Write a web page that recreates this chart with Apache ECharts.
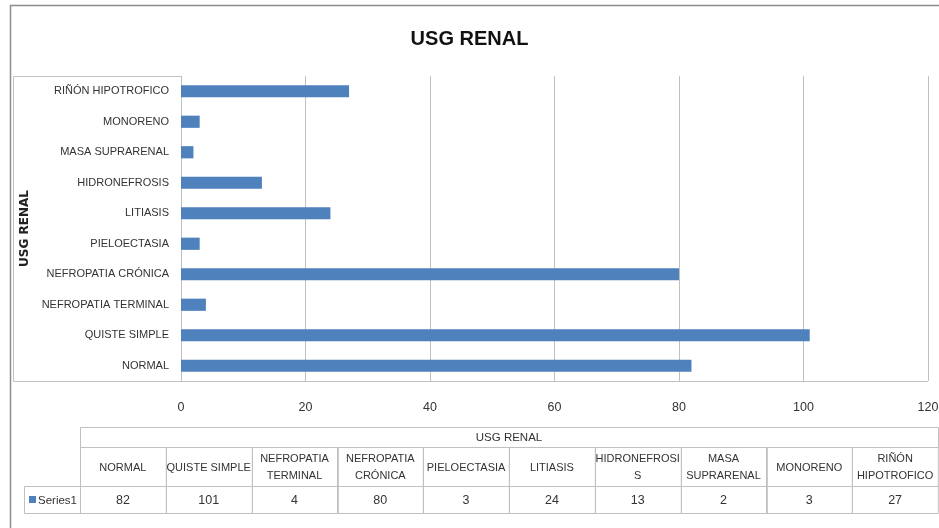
<!DOCTYPE html>
<html>
<head>
<meta charset="utf-8">
<script src="https://cdn.jsdelivr.net/npm/echarts@6/dist/echarts.min.js"></script>
<style>
  html, body { margin: 0; padding: 0; background: #fff; }
  #chart { width: 939px; height: 528px; }
</style>
</head>
<body>
<div id="chart"></div>
<script>
// datos
var categories = ['NORMAL', 'QUISTE SIMPLE', 'NEFROPATIA TERMINAL', 'NEFROPATIA CRÓNICA', 'PIELOECTASIA',
  'LITIASIS', 'HIDRONEFROSIS', 'MASA SUPRARENAL', 'MONORENO', 'RIÑÓN HIPOTROFICO']
var tableLabels = ['NORMAL', 'QUISTE SIMPLE', 'NEFROPATIA\nTERMINAL', 'NEFROPATIA\nCRÓNICA', 'PIELOECTASIA',
  'LITIASIS', 'HIDRONEFROSI\nS', 'MASA\nSUPRARENAL', 'MONORENO', 'RIÑÓN\nHIPOTROFICO']
var values = [82, 101, 4, 80, 3, 24, 13, 2, 3, 27]
var seriesName = 'Series1'
var title = 'USG RENAL'

var font = "'Liberation Sans', Arial, sans-serif"
var textColor = '#333'
var lineColor = '#c0c0c0'
var barColor = '#4f81bd'

// tabla de datos bajo el grafico
var tbl = { x: 80, y: 427, w: 858, headH: 20, catH: 39, valH: 27 }
var cw = tbl.w / categories.length
var tableEls = []

tableEls.push({
  type: 'rect',
  shape: { x: tbl.x + 0.5, y: tbl.y + 0.5, width: tbl.w, height: tbl.headH },
  style: { fill: 'none', stroke: lineColor, lineWidth: 1 }
})
tableEls.push({
  type: 'text',
  x: tbl.x + tbl.w / 2, y: tbl.y + tbl.headH / 2 + 1,
  style: { text: title, font: '11.5px ' + font, fill: textColor, align: 'center', verticalAlign: 'middle' }
})

tableLabels.forEach(function (lab, i) {
  var x = tbl.x + i * cw
  var yc = tbl.y + tbl.headH
  var yv = yc + tbl.catH
  tableEls.push({
    type: 'rect',
    shape: { x: Math.round(x) + 0.5, y: yc + 0.5, width: cw, height: tbl.catH },
    style: { fill: 'none', stroke: lineColor, lineWidth: 1 }
  })
  tableEls.push({
    type: 'text',
    x: x + cw / 2, y: yc + tbl.catH / 2 + 1,
    style: { text: lab, font: '11px ' + font, fill: textColor, align: 'center', verticalAlign: 'middle', lineHeight: 17 }
  })
  tableEls.push({
    type: 'rect',
    shape: { x: Math.round(x) + 0.5, y: yv + 0.5, width: cw, height: tbl.valH },
    style: { fill: 'none', stroke: lineColor, lineWidth: 1 }
  })
  tableEls.push({
    type: 'text',
    x: x + cw / 2, y: yv + tbl.valH / 2 + 1,
    style: { text: String(values[i]), font: '12.5px ' + font, fill: textColor, align: 'center', verticalAlign: 'middle' }
  })
})

// celda de leyenda
var yv0 = tbl.y + tbl.headH + tbl.catH
tableEls.push({
  type: 'rect',
  shape: { x: 24.5, y: yv0 + 0.5, width: tbl.x - 24, height: tbl.valH },
  style: { fill: 'none', stroke: lineColor, lineWidth: 1 }
})
tableEls.push({
  type: 'rect',
  shape: { x: 29, y: yv0 + 10, width: 7, height: 7 },
  style: { fill: barColor }
})
tableEls.push({
  type: 'text',
  x: 38, y: yv0 + tbl.valH / 2 + 1,
  style: { text: seriesName, font: '11.5px ' + font, fill: textColor, align: 'left', verticalAlign: 'middle' }
})

var option = {
  animation: false,
  backgroundColor: '#fff',
  title: {
    text: title,
    left: 'center',
    top: 24,
    textStyle: { fontFamily: font, fontSize: 20, fontWeight: 'bold', color: '#111' }
  },
  grid: {
    left: 181,
    right: 11,
    top: 76,
    bottom: 147,
    outerBoundsMode: 'none',
    containLabel: false
  },
  xAxis: {
    type: 'value',
    min: 0,
    max: 120,
    interval: 20,
    axisLine: { show: false },
    axisTick: { show: false },
    splitLine: { show: true, lineStyle: { color: lineColor, width: 1 } },
    axisLabel: { margin: 20, fontFamily: font, fontSize: 12.5, color: textColor }
  },
  yAxis: {
    type: 'category',
    data: categories,
    name: title,
    nameLocation: 'middle',
    nameGap: 141,
    nameTextStyle: { fontFamily: 'DejaVu Sans', fontSize: 12, fontWeight: 'bold', color: '#222' },
    axisLine: { show: false },
    axisTick: { show: false },
    axisLabel: { margin: 12, fontFamily: font, fontSize: 11, color: textColor }
  },
  series: [
    {
      name: seriesName,
      type: 'bar',
      data: values,
      barWidth: '40%',
      itemStyle: { color: barColor },
      silent: true
    }
  ],
  graphic: [
    // marco exterior
    {
      type: 'rect',
      shape: { x: 10.5, y: 5.5, width: 940, height: 540 },
      style: { fill: 'none', stroke: '#8c8c8c', lineWidth: 1.5 }
    },
    // marco del eje de categorias
    {
      type: 'polyline',
      shape: { points: [[181, 76.5], [13.5, 76.5], [13.5, 381.5], [928, 381.5]] },
      style: { fill: 'none', stroke: lineColor, lineWidth: 1 }
    }
  ].concat(tableEls)
}

var myChart = echarts.init(document.getElementById('chart'))
myChart.setOption(option)
</script>
</body>
</html>
